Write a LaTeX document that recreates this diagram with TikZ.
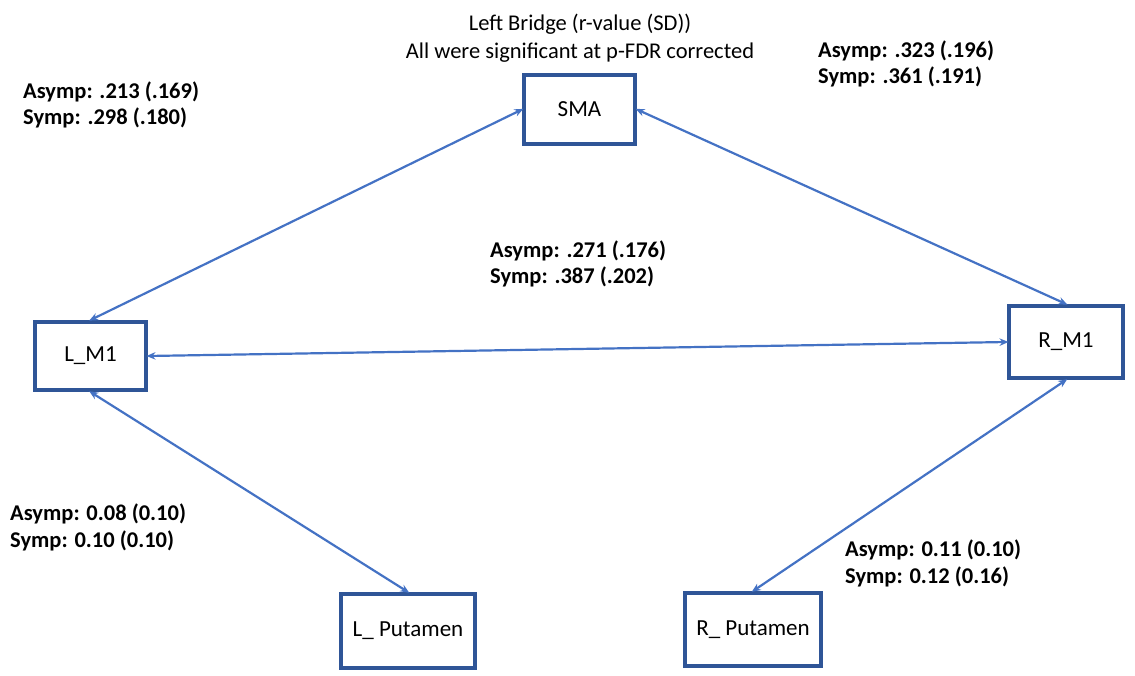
\documentclass[tikz,border=0pt]{standalone}
\usepackage{fontspec}
\setmainfont{Carlito}
\usetikzlibrary{arrows.meta}
\definecolor{boxblue}{HTML}{2F5597}
\definecolor{linkblue}{HTML}{4472C4}
\tikzset{
  region/.style={draw=boxblue, line width=4pt, fill=white, inner sep=0pt,
    font=\fontsize{23}{27}\selectfont},
  link/.style={draw=linkblue, line width=2.2pt, shorten <=-1.5pt, shorten >=-1.5pt,
    {Stealth[length=9pt,width=7.5pt]}-{Stealth[length=9pt,width=7.5pt]}},
  stat/.style={inner sep=0pt, align=left, anchor=base west,
    font=\bfseries\fontsize{22.5}{26.5}\selectfont},
}
\begin{document}
\begin{tikzpicture}[x=1pt,y=-1pt]
\useasboundingbox (0,0) rectangle (1135,676);

% brain regions
\node[region, minimum width=111pt, minimum height=69pt] (sma) at (579.5,109.5) {\raisebox{-3pt}{SMA}};
\node[region, minimum width=111pt, minimum height=68pt] (lm1) at (90.5,356) {\raisebox{-3pt}{L\_M1}\hspace{12pt}};
\node[region, minimum width=114pt, minimum height=72pt] (rm1) at (1066,342) {R\_M1};
\node[region, minimum width=134pt, minimum height=74pt] (lput) at (408,631) {L\_ Putamen};
\node[region, minimum width=136pt, minimum height=73pt] (rput) at (753,629.5) {R\_ Putamen};

% bidirectional connections
\draw[link] (sma.west) -- (lm1.north);
\draw[link] (sma.east) -- (rm1.north);
\draw[link] (lm1.east) -- (rm1.west);
\draw[link] (lm1.south) -- (lput.north);
\draw[link] (rm1.south) -- (rput.north);

% heading (anchored at the baseline of its last line)
\node[inner sep=0pt, align=center, anchor=base, font=\fontsize{22.5}{28}\selectfont]
  (title) at (580,59) {Left Bridge (r-value (SD))\\All were significant at p-FDR corrected};

% connection strengths (anchored at the baseline of the second line)
\node[stat] (s1) at (23,125) {Asymp: .213 (.169)\\Symp: .298 (.180)};
\node[stat] (s2) at (818,84) {Asymp: .323 (.196)\\Symp: .361 (.191)};
\node[stat] (s3) at (490,284) {Asymp: .271 (.176)\\Symp: .387 (.202)};
\node[stat] (s4) at (10,547) {Asymp: 0.08 (0.10)\\Symp: 0.10 (0.10)};
\node[stat] (s5) at (845,583) {Asymp: 0.11 (0.10)\\Symp: 0.12 (0.16)};
\end{tikzpicture}
\end{document}
